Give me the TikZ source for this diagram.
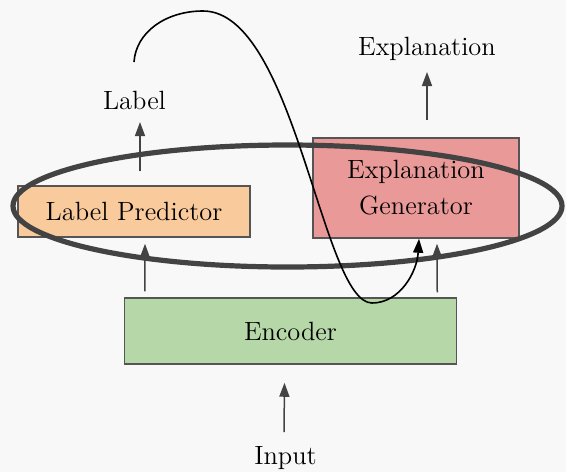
\documentclass[tikz,border=0pt]{standalone}
\usepackage{tikz}
\usetikzlibrary{arrows.meta,calc}
\definecolor{bgcol}{RGB}{248,248,248}
\definecolor{edgecol}{RGB}{85,85,85}
\definecolor{ringcol}{RGB}{67,67,67}
\definecolor{predfill}{RGB}{249,203,156}
\definecolor{genfill}{RGB}{234,153,153}
\definecolor{encfill}{RGB}{182,215,168}
\tikzset{
  box/.style={draw=edgecol,line width=0.75pt,inner sep=0pt,align=center,
    font=\fontsize{13.2}{18}\selectfont},
  txt/.style={anchor=base,inner sep=0pt,font=\fontsize{13.2}{15}\selectfont},
  flow/.style={draw=ringcol,line width=0.75pt,-{Triangle[length=7pt,width=5pt]}},
  ring/.style={draw=ringcol,line width=2.6pt},
  loopline/.style={line width=0.8pt,-{Triangle[length=7pt,width=5pt]}}
}

\begin{document}
\begin{tikzpicture}[x=0.5pt,y=-0.5pt]
  % background and page size
  \fill[bgcol] (0,0) rectangle (566,472);
  \useasboundingbox (0,0) rectangle (566,472);

  % ================= blocks =================
  \node[box,fill=predfill,minimum width=116pt,minimum height=25.5pt] (lp) at (134,211.5) {Label Predictor};
  \node[box,fill=genfill,minimum width=103pt,minimum height=50pt] (eg) at (416,188) {Explanation\\Generator};
  \node[box,fill=encfill,minimum width=166pt,minimum height=33pt] (enc) at (290.5,331) {Encoder};

  % ================= texts =================
  \node[txt] (label) at (134.5,109) {Label};
  \node[txt] (expl) at (427,55) {Explanation};
  \node[txt] (input) at (285.5,464) {Input};

  % ================= arrows =================
  \draw[flow] ([shift={(-1.5,-32)}]input.base) -- ([shift={(-6,18)}]enc.south);
  \draw[flow] ([shift={(21,-6)}]enc.north west) -- ([shift={(11,6)}]lp.south);
  \draw[flow] ([shift={(-20,-5)}]enc.north east) -- ([shift={(21,5)}]eg.south);
  \draw[flow] ([shift={(6,-14)}]lp.north) -- ([shift={(5.5,13)}]label.base);
  \draw[flow] ([shift={(11,-17)}]eg.north) -- ([shift={(0,17)}]expl.base);

  % ================= ring round both heads =================
  \draw[ring] (287.5,206) ellipse [x radius=274.5,y radius=61];

  % ================= loop back into the generator =================
  \coordinate (loopstart) at (134,62);
  \draw[loopline] (loopstart) .. controls (136,32) and (166,11) .. (203,11)
    .. controls (295,11) and (322,303) .. (372,303)
    .. controls (400,303) and (417,272) .. ([shift={(3,0)}]eg.south);
\end{tikzpicture}
\end{document}
